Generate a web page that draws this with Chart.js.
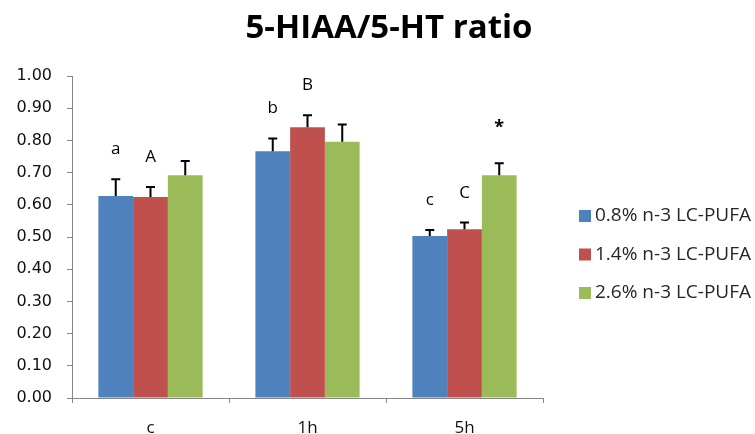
<!DOCTYPE html>
<html>
<head>
<meta charset="utf-8">
<script src="https://cdn.jsdelivr.net/npm/chart.js@4/dist/chart.umd.min.js"></script>
<style>
  html, body { margin: 0; padding: 0; background: #fff; }
  #wrap { width: 755px; height: 434px; }
</style>
</head>
<body>
<div id="wrap"><canvas id="ratioChart" width="755" height="434"></canvas></div>
<script>
/* --------------- Data --------------------- */
const categories = ["c", "1h", "5h"];
const seriesNames = ["0.8% n-3 LC-PUFA", "1.4% n-3 LC-PUFA", "2.6% n-3 LC-PUFA"];
const low = [0.627, 0.766, 0.503];
const mid = [0.624, 0.841, 0.524];
const high = [0.692, 0.796, 0.692];
const lowErr = [0.052, 0.040, 0.019];
const midErr = [0.031, 0.037, 0.021];
const highErr = [0.044, 0.053, 0.037];
// letters written above the bars (same order as the series)
const lowMarks = ["a", "b", "c"];
const midMarks = ["A", "B", "C"];
const highMarks = ["", "", "*"];
const yTicks = [0, 0.1, 0.2, 0.3, 0.4, 0.5, 0.6, 0.7, 0.8, 0.9, 1.0];

const colors = ["#4F81BD", "#C0504D", "#9BBB59"];
const errors = [lowErr, midErr, highErr];
const marks = [lowMarks, midMarks, highMarks];

/* --------------- Error bars + letters --------------------- */
const errorBars = {
  id: "errorBars",
  afterDatasetsDraw(chart) {
    const ctx = chart.ctx;
    const y = chart.scales.y;
    ctx.save();
    chart.data.datasets.forEach((ds, i) => {
      const meta = chart.getDatasetMeta(i);
      meta.data.forEach((bar, j) => {
        const top = y.getPixelForValue(ds.data[j] + errors[i][j]);
        ctx.strokeStyle = "#000";
        ctx.lineWidth = 2;
        ctx.beginPath();
        ctx.moveTo(bar.x, bar.y);
        ctx.lineTo(bar.x, top);
        ctx.moveTo(bar.x - 4.5, top);
        ctx.lineTo(bar.x + 4.5, top);
        ctx.stroke();
        const m = marks[i][j];
        if (m) {
          ctx.fillStyle = "#000";
          ctx.font = m == "*" ? "bold 18px 'Open Sans'" : "17px 'Open Sans'";
          ctx.textAlign = "center";
          ctx.textBaseline = "alphabetic";
          ctx.fillText(m, bar.x, top - (m == "*" ? 30 : 25));
        }
      });
    });
    ctx.restore();
  }
};

/* --------------- Title + legend --------------------- */
const titleAndLegend = {
  id: "titleAndLegend",
  afterDraw(chart) {
    const ctx = chart.ctx;
    ctx.save();
    ctx.fillStyle = "#000";
    ctx.font = "bold 33px 'Open Sans'";
    ctx.textAlign = "center";
    ctx.textBaseline = "alphabetic";
    ctx.fillText("5-HIAA/5-HT ratio", 389, 38);

    ctx.font = "19px 'Open Sans'";
    ctx.textAlign = "left";
    ctx.textBaseline = "middle";
    chart.data.datasets.forEach((ds, i) => {
      const ly = 216 + i * 38.5;
      ctx.fillStyle = ds.backgroundColor;
      ctx.fillRect(579, ly - 6, 12, 12);
      ctx.fillStyle = "#262626";
      ctx.fillText(ds.label, 595, ly);
    });
    ctx.restore();
  }
};

/* --------------- Chart --------------------- */
new Chart(document.getElementById("ratioChart"), {
  type: "bar",
  plugins: [errorBars, titleAndLegend],
  data: {
    labels: categories,
    datasets: [low, mid, high].map((d, i) => ({
      label: seriesNames[i],
      data: d,
      backgroundColor: colors[i],
      borderWidth: 0,
      categoryPercentage: 0.664,
      barPercentage: 1.0,
    })),
  },
  options: {
    responsive: false,
    animation: false,
    layout: { padding: { left: 0, top: 76, right: 212, bottom: 0 } },
    plugins: {
      legend: { display: false },
      tooltip: { enabled: false },
      title: { display: false },
    },
    scales: {
      x: {
        afterFit: (s) => { s.height = 36; },
        grid: {
          offset: true,
          drawOnChartArea: false,
          drawTicks: true,
          tickLength: 5,
          color: "#868686",
        },
        border: { color: "#868686", width: 1 },
        ticks: { color: "#111", font: { family: "'Open Sans'", size: 17 }, padding: 15 },
      },
      y: {
        min: 0,
        max: 1,
        afterFit: (s) => { s.width = 72; },
        afterBuildTicks: (s) => { s.ticks = yTicks.map((v) => ({ value: v })); },
        grid: {
          drawOnChartArea: false,
          drawTicks: true,
          tickLength: 5,
          color: "#868686",
        },
        border: { color: "#868686", width: 1 },
        ticks: {
          color: "#111",
          padding: 15,
          font: { family: "'DejaVu Sans'", size: 16 },
          callback: (v) => Number(v).toFixed(2),
        },
      },
    },
  },
});
</script>
</body>
</html>
